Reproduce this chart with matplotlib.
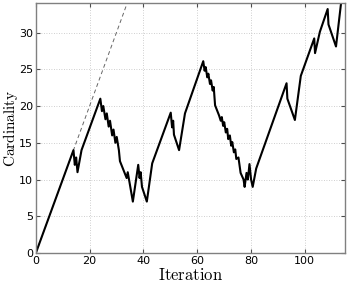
import matplotlib
matplotlib.use("Agg")
import matplotlib.pyplot as plt

iteration = [0, 14, 14.5, 15, 15.5, 17, 24, 24.6, 25.1, 25.9, 26.4, 27.1, 27.6, 28.4, 28.9,
             29.6, 30.1, 30.9, 31.3, 33.8, 34.2, 36.1, 38.1, 38.6, 39, 39.5, 41.3, 43.3,
             50.2, 50.7, 51.1, 51.4, 53.3, 55.5, 62.3, 62.8, 63.2, 63.8, 64.2, 64.8, 65.2,
             65.8, 66.2, 66.7, 68.2, 68.8, 69.2, 69.7, 70.1, 70.7, 71.2, 71.6, 72.2, 72.7,
             73.1, 73.7, 74.2, 74.6, 75.4, 76.2, 77.3, 77.7, 78.4, 78.9, 79.5, 80.1, 80.7,
             82, 93.3, 93.6, 96.4, 98.6, 103.6, 103.9, 105.7, 108.6, 108.9, 111.7, 113.9]
cardinality = [0, 14, 12, 13, 11, 14, 21, 19.3, 20, 18.2, 19, 17.2, 18, 16, 16.8,
               15, 15.8, 14, 12.5, 10.2, 11, 7, 12, 10.2, 11, 9, 7, 12.2,
               19.1, 17.1, 18, 16.1, 14, 19, 26.1, 24.8, 25.3, 23.9, 24.4, 23, 23.5,
               22.1, 22.6, 20.1, 18.7, 18, 18.5, 17.3, 17.8, 16.4, 16.9, 15.5, 16, 14.6,
               15.1, 13.7, 14.1, 12.8, 13, 10.9, 10, 9, 10.9, 10, 12.1, 10, 9,
               11.5, 23.1, 21, 18.1, 24.1, 29.2, 27.2, 30.1, 33.2, 31.1, 28.1, 35]
bound_x = [0, 40]
bound_y = [0, 40]

xticks = [0, 20, 40, 60, 80, 100]
yticks = [0, 5, 10, 15, 20, 25, 30]

plt.rcParams['mathtext.fontset'] = 'cm'
fig = plt.figure(figsize=(3.48, 2.84), dpi=100)
ax = fig.add_axes([0.103, 0.109, 0.888, 0.880])

ax.plot(bound_x, bound_y, linestyle=(0, (4, 3)), color='0.4', linewidth=0.7)
ax.plot(iteration, cardinality, color='black', linewidth=1.5)

ax.set_xlim(0, 115)
ax.set_ylim(0, 34)
ax.set_xticks(xticks)
ax.set_yticks(yticks)
ax.grid(True, linestyle=(0, (1, 2)), color='0.75', linewidth=0.6)
ax.tick_params(direction='in', labelsize=8, length=3, top=True, right=True,
               color='0.3', pad=2)
for s in ax.spines.values():
    s.set_color('0.5')
    s.set_linewidth(1.0)

ax.set_xlabel(r'$\mathrm{Iteration}$', fontsize=12, labelpad=0)
ax.set_ylabel(r'$\mathrm{Cardinality}$', fontsize=11)
ax.yaxis.set_label_coords(-0.05, 0.5)

fig.savefig('out.png', dpi=100)
